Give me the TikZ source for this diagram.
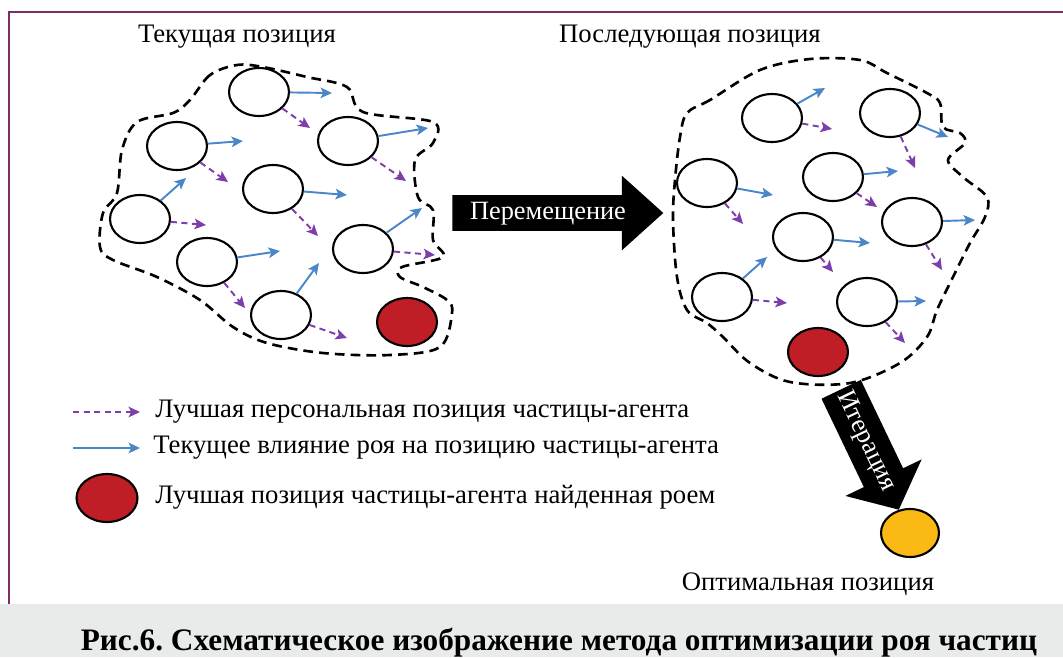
\documentclass[tikz,border=0pt]{standalone}
\usepackage{fontspec}
\setmainfont{Liberation Serif}
\usetikzlibrary{shapes.geometric, shapes.arrows, arrows.meta}
\frenchspacing

\definecolor{swarmblue}{RGB}{74,134,200}
\definecolor{bestpurple}{RGB}{124,62,170}
\definecolor{bestred}{RGB}{192,30,38}
\definecolor{optyellow}{RGB}{251,185,22}
\definecolor{framepurple}{RGB}{122,45,105}
\definecolor{bandgray}{RGB}{233,235,234}

\tikzset{
  agent/.style={draw, ellipse, line width=1.2pt, minimum width=1.2cm, minimum height=0.96cm, inner sep=0pt, fill=white},
  leader/.style={agent, fill=bestred},
  velo/.style={swarmblue, line width=1.1pt, -{Stealth[length=6.5pt, width=6pt, inset=1.5pt]}},
  pbest/.style={bestpurple, line width=1.1pt, dash pattern=on 3.5pt off 2.5pt, -{Stealth[length=6.5pt, width=6pt, inset=1.5pt]}},
  cloud/.style={line width=1.5pt, dash pattern=on 5.5pt off 3.5pt},
  bigarrow/.style={single arrow, fill=black, text=white, anchor=tail, inner xsep=2pt, font=\fontsize{15}{18}\selectfont, text height=10pt, text depth=3pt},
  txt/.style={font=\fontsize{15.2}{18}\selectfont, inner sep=0pt}
}

\begin{document}
\begin{tikzpicture}
  \begin{scope}[x=0.02cm, y=-0.02cm]
    \useasboundingbox (0,0) rectangle (1063,657);
    % frame and caption band
    \fill[bandgray] (0,604) rectangle (1063,657);
    \draw[framepurple, line width=1.3pt] (9,604) -- (9,12) -- (1063,12);

    % big arrows
    \node[bigarrow, minimum height=4.22cm, single arrow head extend=0.39cm, single arrow tip angle=84, inner ysep=0.12cm] (move) at (452,213) {Перемещение};
    \node[bigarrow, rotate=-64.4, minimum height=2.64cm, single arrow head extend=0.41cm, single arrow tip angle=100, inner ysep=0.2cm] (iter) at (841,389) {Итерация};

    % swarm boundaries
    \draw[cloud] plot[smooth cycle, tension=0.55] coordinates {(237,65) (210,75) (190,100) (173,113) (137,122) (122,150) (117,193) (103,213) (100,247) (113,260) (157,277) (200,300) (233,327) (267,343) (323,353) (390,355) (440,347) (452,313) (447,300) (423,287) (400,277) (402,267) (443,257) (433,240) (433,210) (418,197) (415,160) (433,143) (433,122) (363,112) (347,87) (307,77) (263,67)};
    \draw[cloud] plot[smooth cycle, tension=0.55] coordinates {(760,70) (710,100) (687,113) (680,137) (675,180) (673,220) (677,277) (687,310) (707,323) (723,337) (750,363) (790,382) (850,383) (900,363) (927,337) (937,310) (953,277) (970,243) (985,217) (987,197) (963,177) (948,160) (965,143) (960,133) (943,127) (940,103) (927,93) (887,73) (860,60) (810,59)};

    % current position
    \node[agent] (P1) at (259,92) {};
    \node[agent] (P2) at (177,146) {};
    \node[agent] (P3) at (348,141) {};
    \node[agent] (P4) at (273,189) {};
    \node[agent] (P5) at (140,219) {};
    \node[agent] (P6) at (207,262) {};
    \node[agent] (P7) at (363,249) {};
    \node[agent] (P8) at (281,315) {};
    \node[leader] (G) at (407,322) {};
    \coordinate (P1v) at (332,93);
    \coordinate (P1b) at (310,128);
    \coordinate (P2v) at (243,141);
    \coordinate (P2b) at (228,182);
    \coordinate (P3v) at (428,128);
    \coordinate (P3b) at (406,181);
    \coordinate (P4v) at (347,195);
    \coordinate (P4b) at (318,236);
    \coordinate (P5v) at (186,178);
    \coordinate (P5b) at (206,225);
    \coordinate (P6v) at (280,251);
    \coordinate (P6b) at (245,308);
    \coordinate (P7v) at (422,208);
    \coordinate (P7b) at (435,255);
    \coordinate (P8v) at (319,263);
    \coordinate (P8b) at (347,338);
    \draw[velo] (P1) -- (P1v);
    \draw[pbest] (P1) -- (P1b);
    \draw[velo] (P2) -- (P2v);
    \draw[pbest] (P2) -- (P2b);
    \draw[velo] (P3) -- (P3v);
    \draw[pbest] (P3) -- (P3b);
    \draw[velo] (P4) -- (P4v);
    \draw[pbest] (P4) -- (P4b);
    \draw[velo] (P5) -- (P5v);
    \draw[pbest] (P5) -- (P5b);
    \draw[velo] (P6) -- (P6v);
    \draw[pbest] (P6) -- (P6b);
    \draw[velo] (P7) -- (P7v);
    \draw[pbest] (P7) -- (P7b);
    \draw[velo] (P8) -- (P8v);
    \draw[pbest] (P8) -- (P8b);

    % next position
    \node[agent] (Q1) at (772,118) {};
    \node[agent] (Q2) at (890,113) {};
    \node[agent] (Q3) at (707,183) {};
    \node[agent] (Q4) at (833,177) {};
    \node[agent] (Q5) at (912,222) {};
    \node[agent] (Q6) at (803,237) {};
    \node[agent] (Q7) at (722,297) {};
    \node[agent] (Q8) at (867,302) {};
    \node[leader] (H) at (818,352) {};
    \coordinate (Q1v) at (825,88);
    \coordinate (Q1b) at (832,129);
    \coordinate (Q2v) at (948,137);
    \coordinate (Q2b) at (915,168);
    \coordinate (Q3v) at (773,195);
    \coordinate (Q3b) at (743,224);
    \coordinate (Q4v) at (898,171);
    \coordinate (Q4b) at (877,207);
    \coordinate (Q5v) at (975,220);
    \coordinate (Q5b) at (942,270);
    \coordinate (Q6v) at (870,243);
    \coordinate (Q6b) at (833,272);
    \coordinate (Q7v) at (767,257);
    \coordinate (Q7b) at (787,303);
    \coordinate (Q8v) at (926,301);
    \coordinate (Q8b) at (905,343);
    \draw[velo] (Q1) -- (Q1v);
    \draw[pbest] (Q1) -- (Q1b);
    \draw[velo] (Q2) -- (Q2v);
    \draw[pbest] (Q2) -- (Q2b);
    \draw[velo] (Q3) -- (Q3v);
    \draw[pbest] (Q3) -- (Q3b);
    \draw[velo] (Q4) -- (Q4v);
    \draw[pbest] (Q4) -- (Q4b);
    \draw[velo] (Q5) -- (Q5v);
    \draw[pbest] (Q5) -- (Q5b);
    \draw[velo] (Q6) -- (Q6v);
    \draw[pbest] (Q6) -- (Q6b);
    \draw[velo] (Q7) -- (Q7v);
    \draw[pbest] (Q7) -- (Q7b);
    \draw[velo] (Q8) -- (Q8v);
    \draw[pbest] (Q8) -- (Q8b);

    % optimum
    \node[agent, fill=optyellow, minimum width=1.16cm] (O) at (910,533) {};

    % legend
    \coordinate (L1a) at (73,412);
    \coordinate (L1b) at (140,412);
    \coordinate (L2a) at (73,448);
    \coordinate (L2b) at (140,448);
    \draw[pbest] (L1a) -- (L1b);
    \draw[velo] (L2a) -- (L2b);
    \node[leader, minimum width=1.22cm] (LG) at (107,498) {};
    \node[txt, anchor=base west] (T1) at (155,417) {Лучшая персональная позиция частицы-агента};
    \node[txt, anchor=base west] (T2) at (153,453) {Текущее влияние роя на позицию частицы-агента};
    \node[txt, anchor=base west] (T3) at (155,503) {Лучшая позиция частицы-агента найденная роем};

    % titles
    \node[txt, anchor=base] (now) at (237,42) {Текущая позиция};
    \node[txt, anchor=base] (next) at (690,42) {Последующая позиция};
    \node[txt, anchor=base] (best) at (808,590) {Оптимальная позиция};
    \node[txt, anchor=base, font=\fontsize{17.8}{20}\selectfont\bfseries] (cap) at (559,650) {Рис.6. Схематическое изображение метода оптимизации роя частиц};
  \end{scope}
\end{tikzpicture}
\end{document}
